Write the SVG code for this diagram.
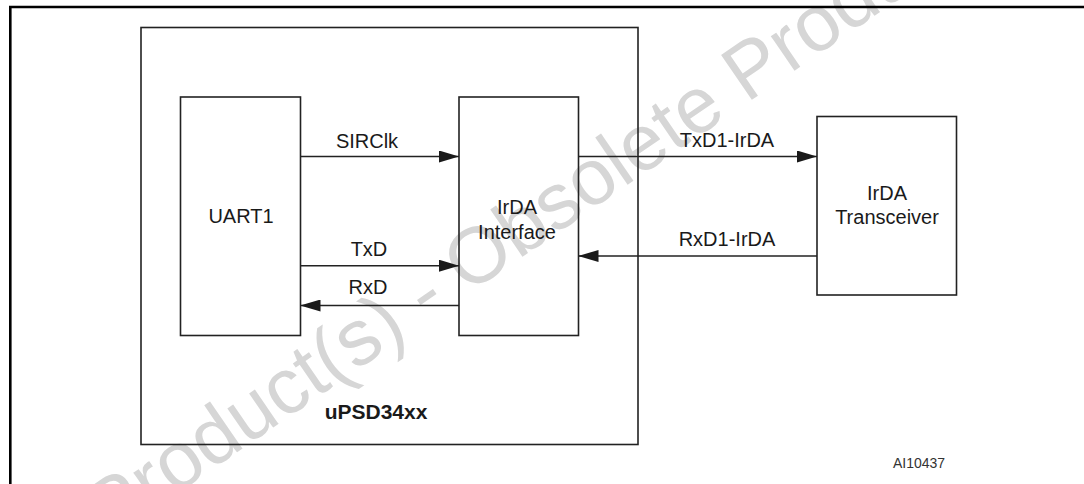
<svg xmlns="http://www.w3.org/2000/svg" width="1084" height="484" viewBox="0 0 1084 484">
  <style>
    .box { fill: none; stroke: #222; stroke-width: 1.6; }
    .wire { fill: none; stroke: #222; stroke-width: 1.5; }
    .lbl { font-family: "Liberation Sans", Arial, sans-serif; font-size: 20px; fill: #1a1a1a; text-anchor: middle; }
    .bold { font-weight: bold; font-size: 21px; }
    .ref { font-family: "Liberation Sans", Arial, sans-serif; font-size: 14px; fill: #333; }
    .wm { font-family: "Liberation Sans", Arial, sans-serif; font-size: 79px; fill: #d6d6d6; }
  </style>
  <defs>
    <marker id="arrow" markerUnits="userSpaceOnUse" markerWidth="20" markerHeight="12" refX="20" refY="6" orient="auto">
      <path d="M0,0 L20,6 L0,12 z" fill="#1a1a1a"/>
    </marker>
  </defs>
  <rect x="0" y="0" width="1084" height="484" fill="#fff"/>

  <!-- watermark -->
  <text class="wm" transform="translate(109,540) rotate(-34.4)">Product(s) - Obsolete Product(s)</text>

  <!-- outer frame -->
  <path d="M10.3,484 V7 H1084" fill="none" stroke="#000" stroke-width="2.6"/>

  <g id="upsd34xx">
    <rect class="box" x="141" y="27.5" width="497" height="417"/>
    <text class="lbl bold" x="376" y="419">uPSD34xx</text>
  </g>

  <g id="uart1">
    <rect class="box" x="180.5" y="97" width="120" height="238.5"/>
    <text class="lbl" x="241" y="223">UART1</text>
  </g>

  <g id="irda-interface">
    <rect class="box" x="459" y="97" width="119.5" height="238.5"/>
    <text class="lbl" x="517" y="214">IrDA</text>
    <text class="lbl" x="517" y="239">Interface</text>
  </g>

  <g id="irda-transceiver">
    <rect class="box" x="817" y="116.5" width="139.5" height="178.5"/>
    <text class="lbl" x="887" y="200">IrDA</text>
    <text class="lbl" x="887" y="224">Transceiver</text>
  </g>

  <g id="connectors">
    <line class="wire" x1="300.5" y1="156.5" x2="459" y2="156.5" marker-end="url(#arrow)"/>
    <text class="lbl" x="367" y="148">SIRClk</text>
    <line class="wire" x1="300.5" y1="265.7" x2="459" y2="265.7" marker-end="url(#arrow)"/>
    <text class="lbl" x="369" y="255.7">TxD</text>
    <line class="wire" x1="459" y1="305.5" x2="300.5" y2="305.5" marker-end="url(#arrow)"/>
    <text class="lbl" x="368" y="294">RxD</text>
    <line class="wire" x1="578.5" y1="156.5" x2="817" y2="156.5" marker-end="url(#arrow)"/>
    <text class="lbl" x="727" y="147.3">TxD1-IrDA</text>
    <line class="wire" x1="817" y1="256" x2="578.5" y2="256" marker-end="url(#arrow)"/>
    <text class="lbl" x="727" y="245.7">RxD1-IrDA</text>
  </g>

  <text class="ref" x="893" y="468">AI10437</text>
</svg>
